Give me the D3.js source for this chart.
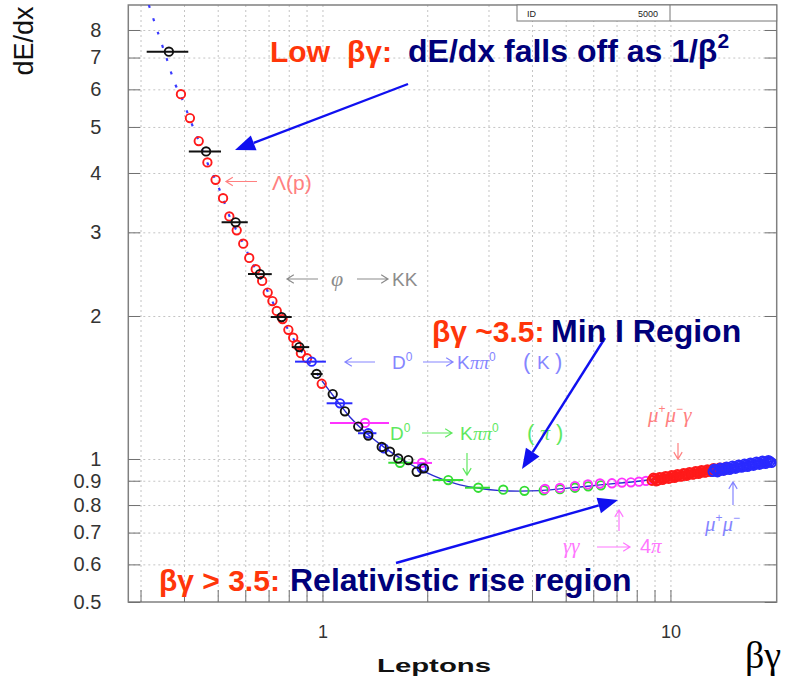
<!DOCTYPE html>
<html>
<head>
<meta charset="utf-8">
<script src="https://cdn.jsdelivr.net/npm/d3@7/dist/d3.min.js"></script>
<style>
body { margin: 0; background: #fff; }
svg { display: block; font-family: "Liberation Sans", Arial, sans-serif; }
</style>
</head>
<body>
<svg id="vis" width="785" height="681"></svg>
<script>
// fitted dE/dx curve
var curveBG = [0.317, 0.337, 0.357, 0.377, 0.392, 0.416, 0.441, 0.467, 0.494, 0.518, 0.540, 0.567, 0.592, 0.619, 0.644, 0.671, 0.697, 0.740, 0.798, 0.845, 0.920, 0.997, 1.086, 1.199, 1.325, 1.463, 1.616, 1.784, 1.970, 2.176, 2.484, 2.835, 3.236, 3.694, 4.217, 4.814, 5.495, 6.272, 7.159, 8.173, 9.328, 10.65, 12.16, 13.88, 15.84, 18.08, 20.10];
var curveDE = [9.03, 7.88, 6.95, 6.16, 5.81, 5.19, 4.67, 4.20, 3.85, 3.53, 3.25, 3.02, 2.84, 2.65, 2.50, 2.37, 2.25, 2.05, 1.87, 1.74, 1.59, 1.46, 1.344, 1.226, 1.140, 1.075, 1.020, 0.976, 0.939, 0.910, 0.882, 0.867, 0.858, 0.856, 0.858, 0.865, 0.873, 0.882, 0.890, 0.899, 0.910, 0.923, 0.937, 0.950, 0.964, 0.978, 0.993];
var curveSplit = 0.997; // dotted below, solid above

// Lambda -> p (red)
var lamBG = [0.392, 0.416, 0.441, 0.467, 0.493, 0.518, 0.540, 0.567, 0.592, 0.616, 0.643, 0.671, 0.696, 0.718, 0.739, 0.768, 0.798, 0.824, 0.843, 0.867, 0.903, 0.995];
var lamDE = [5.86, 5.22, 4.67, 4.21, 3.87, 3.54, 3.24, 3.03, 2.84, 2.65, 2.51, 2.37, 2.24, 2.15, 2.05, 1.97, 1.87, 1.80, 1.74, 1.67, 1.63, 1.44];

// phi -> KK (black), with x error bars on the first points
var phiBG = [0.362, 0.463, 0.563, 0.661, 0.763, 0.858, 0.962, 1.070, 1.160, 1.267, 1.354, 1.480, 1.563, 1.651, 1.765, 1.865, 1.957];
var phiDE = [7.20, 4.44, 3.15, 2.45, 1.99, 1.72, 1.51, 1.37, 1.26, 1.17, 1.12, 1.06, 1.036, 1.003, 0.995, 0.940, 0.956];
var phiLo = [0.3125, 0.413, 0.513, 0.611, 0.710, 0.816, 0.925, null, null, null, null, null, null, null, null, null, null];
var phiHi = [0.4115, 0.511, 0.610, 0.715, 0.816, 0.916, 1.001, null, null, null, null, null, null, null, null, null, null];

// D0 -> K pi pi0 (K), blue
var dkBG = [0.931, 1.123, 1.354, 1.502, 1.928];
var dkDE = [1.603, 1.310, 1.133, 1.053, 0.956];
var dkLo = [0.834, 1.028, 1.265, null, null];
var dkHi = [1.023, 1.219, 1.429, null, null];

// D0 -> K pi pi0 (pi), green
var dpBG = [1.670, 2.299, 2.804, 3.308, 3.806, 4.322, 4.814, 5.317, 5.804, 6.314];
var dpDE = [0.982, 0.903, 0.870, 0.862, 0.857, 0.859, 0.864, 0.870, 0.876, 0.880];
var dpLo = [1.546, 2.073, 2.568, null, null, null, null, null, null, null];
var dpHi = [1.823, 2.539, 3.029, null, null, null, null, null, null, null];

// gamma gamma -> 4 pi, magenta
var ggBG = [1.325, 1.932, 4.360, 4.814, 5.317, 5.793, 6.272, 6.790, 7.254, 7.700, 8.119, 8.504, 8.907];
var ggDE = [1.191, 0.981, 0.865, 0.869, 0.877, 0.884, 0.888, 0.889, 0.892, 0.893, 0.896, 0.899, 0.905];
var ggLo = [1.051, 1.820, null, null, null, null, null, null, null, null, null, null, null];
var ggHi = [1.553, 2.064, null, null, null, null, null, null, null, null, null, null, null];

// mu+ mu- gamma, red band
var mmgBG = [8.848, 9.027, 9.208, 9.392, 9.579, 9.770, 9.968, 10.17, 10.37, 10.58, 10.79, 11.01, 11.23, 11.45, 11.68, 11.92, 12.16, 12.40, 12.65, 12.90, 13.16, 13.43, 13.70, 13.97, 14.25, 14.54,
             8.937, 9.117, 9.299, 9.485, 9.674, 9.869, 10.07, 10.27, 10.47, 10.68, 10.90, 11.12, 11.34, 11.57, 11.80, 12.04, 12.28, 12.52, 12.77, 13.03, 13.29, 13.56, 13.83, 14.11, 14.39];
var mmgDE = [0.901, 0.908, 0.903, 0.912, 0.910, 0.917, 0.912, 0.921, 0.919, 0.925, 0.921, 0.930, 0.928, 0.934, 0.930, 0.939, 0.937, 0.943, 0.939, 0.946, 0.943, 0.950, 0.946, 0.953, 0.948, 0.955,
             0.912, 0.899, 0.914, 0.905, 0.919, 0.910, 0.923, 0.914, 0.928, 0.919, 0.932, 0.923, 0.937, 0.928, 0.941, 0.932, 0.946, 0.937, 0.950, 0.941, 0.955, 0.946, 0.957, 0.950, 0.960];

// mu+ mu-, blue band
var mmBG = [13.25, 13.51, 13.79, 14.06, 14.34, 14.63, 14.93, 15.22, 15.53, 15.84, 16.16, 16.48, 16.81, 17.15, 17.49, 17.84, 18.20, 18.57, 18.94, 19.32,
            13.38, 13.65, 13.92, 14.20, 14.49, 14.78, 15.08, 15.38, 15.68, 16.00, 16.32, 16.65, 16.98, 17.32, 17.67, 18.02, 18.38, 18.75, 19.12, 19.51];
var mmDE = [0.941, 0.948, 0.944, 0.953, 0.950, 0.957, 0.955, 0.962, 0.960, 0.967, 0.964, 0.971, 0.969, 0.976, 0.974, 0.981, 0.978, 0.986, 0.983, 0.988,
            0.953, 0.939, 0.957, 0.946, 0.962, 0.950, 0.967, 0.955, 0.971, 0.960, 0.976, 0.964, 0.981, 0.969, 0.986, 0.974, 0.990, 0.978, 0.993, 0.983];

var yTicks = [0.5, 0.6, 0.7, 0.8, 0.9, 1, 2, 3, 4, 5, 6, 7, 8];
var yGrid = [0.6, 0.7, 0.8, 0.9, 1, 2, 3, 4, 5, 6, 7, 8];
var xGrid = [0.3, 0.4, 0.5, 0.6, 0.7, 0.8, 0.9, 1, 2, 3, 4, 5, 6, 7, 8, 9, 10];
var xLabels = [1, 10];

var L = 128.3, R = 776.7, T = 5, B = 602;
var x = d3.scaleLog().domain([0.2767, 20.2]).range([L, R]);
var y = d3.scaleLog().domain([0.5, 9.03]).range([B, T]);

var svg = d3.select("#vis");
svg.append("rect").attr("width", 785).attr("height", 681).attr("fill", "#fff");
svg.append("clipPath").attr("id", "clip")
   .append("rect").attr("x", L).attr("y", T).attr("width", R - L).attr("height", B - T);

// dotted grid
svg.append("g").attr("transform", `translate(0,${B})`)
   .call(d3.axisBottom(x).tickValues(xGrid).tickSize(-(B - T)).tickFormat(""))
   .call(g => g.select(".domain").remove())
   .call(g => g.selectAll("line").attr("stroke", "#c4c4c4").attr("stroke-dasharray", "2,3"));
svg.append("g").attr("transform", `translate(${L},0)`)
   .call(d3.axisLeft(y).tickValues(yGrid).tickSize(-(R - L)).tickFormat(""))
   .call(g => g.select(".domain").remove())
   .call(g => g.selectAll("line").attr("stroke", "#c4c4c4").attr("stroke-dasharray", "2,3"));

// frame
svg.append("rect").attr("x", L).attr("y", T).attr("width", R - L).attr("height", B - T)
   .attr("fill", "none").attr("stroke", "#808080").attr("stroke-width", 1.5);

// axes with inward ticks
var tickCol = "#707070", labCol = "#333";
svg.append("g").attr("transform", `translate(${L},0)`)
   .call(d3.axisLeft(y).tickValues(yTicks).tickSizeInner(-12).tickSizeOuter(0).tickPadding(27)
           .tickFormat(d => String(d)))
   .call(g => g.select(".domain").remove())
   .call(g => g.selectAll("line").attr("stroke", tickCol))
   .call(g => g.selectAll("text").attr("fill", labCol).attr("font-size", 20)
               .attr("font-family", "Liberation Sans, Arial, sans-serif"));
svg.append("g").attr("transform", `translate(${R},0)`)
   .call(d3.axisRight(y).tickValues(yTicks).tickSizeInner(-12).tickSizeOuter(0).tickFormat(""))
   .call(g => g.select(".domain").remove())
   .call(g => g.selectAll("line").attr("stroke", tickCol));
svg.append("g").attr("transform", `translate(0,${B})`)
   .call(d3.axisBottom(x).tickValues(xGrid).tickSizeInner(-12).tickSizeOuter(0).tickPadding(23)
           .tickFormat(d => xLabels.indexOf(d) >= 0 ? String(d) : ""))
   .call(g => g.select(".domain").remove())
   .call(g => g.selectAll("line").attr("stroke", tickCol))
   .call(g => g.selectAll("text").attr("fill", labCol).attr("font-size", 18)
               .attr("font-family", "Liberation Sans, Arial, sans-serif"));

// ID box
var idBox = svg.append("g").attr("font-size", 9).attr("fill", "#222");
idBox.append("rect").attr("x", 517).attr("y", T).attr("width", R - 517).attr("height", 16)
     .attr("fill", "#fff").attr("stroke", "#777");
idBox.append("line").attr("x1", 670).attr("x2", 670).attr("y1", T).attr("y2", T + 16).attr("stroke", "#777");
idBox.append("text").attr("x", 527).attr("y", 17).text("ID");
idBox.append("text").attr("x", 638).attr("y", 17).text("5000");

var plot = svg.append("g").attr("clip-path", "url(#clip)");

// fitted curve
var curve = curveBG.map((d, i) => [d, curveDE[i]]);
var line = d3.line().x(d => x(d[0])).y(d => y(d[1])).curve(d3.curveCatmullRom);
plot.append("path").datum(curve.filter(d => d[0] <= curveSplit)).attr("d", line)
    .attr("fill", "none").attr("stroke", "#3b3bff").attr("stroke-width", 2.2)
    .attr("stroke-dasharray", "3,11");
plot.append("path").datum(curve.filter(d => d[0] >= curveSplit)).attr("d", line)
    .attr("fill", "none").attr("stroke", "#2a2ad0").attr("stroke-width", 1.4);

function series(bg, de, lo, hi, color, fill, r) {
  var pts = bg.map((d, i) => ({bg: d, de: de[i], lo: lo ? lo[i] : null, hi: hi ? hi[i] : null}));
  var g = plot.append("g");
  g.selectAll("line").data(pts.filter(d => d.lo != null)).enter().append("line")
   .attr("x1", d => x(d.lo)).attr("x2", d => x(d.hi))
   .attr("y1", d => y(d.de)).attr("y2", d => y(d.de))
   .attr("stroke", color).attr("stroke-width", 2);
  g.selectAll("circle").data(pts).enter().append("circle")
   .attr("cx", d => x(d.bg)).attr("cy", d => y(d.de)).attr("r", r || 4.2)
   .attr("fill", fill).attr("stroke", color).attr("stroke-width", 1.9);
}
series(lamBG, lamDE, null, null, "#ff1a1a", "none");
series(dpBG, dpDE, dpLo, dpHi, "#33dd33", "none");
series(ggBG, ggDE, ggLo, ggHi, "#ff33ff", "none");
series(dkBG, dkDE, dkLo, dkHi, "#2a2aff", "none");
series(phiBG, phiDE, phiLo, phiHi, "#111", "none");
series(mmgBG, mmgDE, null, null, "#ff1a1a", "none", 4.5);
series(mmBG, mmDE, null, null, "#2a2aff", "none", 4.5);

// thin annotation arrows
function thinArrow(x1, y1, x2, y2, color) {
  var a = Math.atan2(y2 - y1, x2 - x1), h = 8, s = 0.55;
  svg.append("path")
     .attr("d", `M${x1},${y1}L${x2},${y2}M${x2 - h * Math.cos(a - s)},${y2 - h * Math.sin(a - s)}L${x2},${y2}L${x2 - h * Math.cos(a + s)},${y2 - h * Math.sin(a + s)}`)
     .attr("fill", "none").attr("stroke", color).attr("stroke-width", 1.2);
}
// parts: [x, text, italic?, size?, dy?]
function note(parts, yPos, color) {
  var t = svg.append("text").attr("y", yPos).attr("fill", color).attr("font-size", 19);
  parts.forEach(p => {
    var s = t.append("tspan").text(p[1])
     .attr("font-family", p[2] ? "Liberation Serif, serif" : "Liberation Sans, sans-serif")
     .attr("font-style", p[2] ? "italic" : "normal");
    if (p[0] != null) s.attr("x", p[0]);
    if (p[3]) s.attr("font-size", p[3]);
    if (p[4]) s.attr("dy", p[4]);
  });
}
var cLam = "#ff8080", cPhi = "#8c8c8c", cDK = "#8585ff", cDP = "#5fe85f", cGG = "#ff77ff";
thinArrow(257, 181.5, 226, 181.5, cLam);
note([[272, "Λ(p)", false, 21]], 190, cLam);
thinArrow(318, 279, 287, 279, cPhi);
thinArrow(357, 279, 388, 279, cPhi);
note([[331, "φ", true, 22], [392, "KK"]], 286, cPhi);
thinArrow(375, 362, 345, 362, cDK);
thinArrow(423, 362, 453, 362, cDK);
note([[392, "D"], [null, "0", false, 12, -8], [457, "K", false, 19, 8], [470, "ππ", true], [null, "0", false, 12, -8],
      [523, "(", false, 22, 8], [537, "K", false, 19], [555, ")", false, 22]], 369, cDK);
thinArrow(422, 433, 452, 433, cDP);
thinArrow(467, 453, 467, 475, cDP);
note([[390, "D"], [null, "0", false, 12, -8], [460, "K", false, 19, 8], [473, "ππ", true], [null, "0", false, 12, -8],
      [527, "(", false, 22, 8], [540, "π", true, 20], [556, ")", false, 22]], 440, cDP);
note([[648, "μ", true, 21], [null, "+", false, 12, -9], [null, "μ", true, 21, 9], [null, "−", false, 12, -9],
      [null, "γ", true, 21, 9]], 422, cLam);
thinArrow(678, 443, 678, 459, cLam);
thinArrow(733, 505, 733, 482, cDK);
note([[705, "μ", true, 21], [null, "+", false, 12, -9], [null, "μ", true, 21, 9], [null, "−", false, 12, -9]], 531, cDK);
thinArrow(619, 531, 619, 510, cGG);
thinArrow(597, 547, 630, 547, cGG);
note([[563, "γγ", true, 21], [640, "4", false, 20], [651, "π", true, 21]], 553, cGG);

// bold blue arrows
function boldArrow(x1, y1, x2, y2) {
  var a = Math.atan2(y2 - y1, x2 - x1), h = 20, w = 8;
  var bx = x2 - h * Math.cos(a), by = y2 - h * Math.sin(a);
  svg.append("line").attr("x1", x1).attr("y1", y1).attr("x2", bx).attr("y2", by)
     .attr("stroke", "#1010f0").attr("stroke-width", 2.4);
  svg.append("path")
     .attr("d", `M${x2},${y2}L${bx - w * Math.sin(a)},${by + w * Math.cos(a)}L${bx + w * Math.sin(a)},${by - w * Math.cos(a)}Z`)
     .attr("fill", "#1010f0");
}
boldArrow(408, 84, 235, 150);
boldArrow(605, 338, 522, 469);
boldArrow(396, 563, 618, 500);

// headline annotations: [x, text, colour]
var red = "#ff360a", navy = "#00007a";
function headline(parts, yPos, sup) {
  var g = svg.append("text").attr("y", yPos).attr("font-weight", "bold");
  parts.forEach(p => {
    g.append("tspan").attr("x", p[0]).attr("fill", p[2])
     .attr("font-size", p[2] === navy ? 32 : 30).text(p[1]);
  });
  if (sup) g.append("tspan").attr("fill", navy).attr("font-size", 21).attr("dy", -14).text(sup);
}
headline([[270, "Low", red], [347, "βγ:", red], [408, "dE/dx falls off as 1/β", navy]], 62, "2");
headline([[432, "βγ ~3.5:", red], [551, "Min I Region", navy]], 342);
headline([[159, "βγ > 3.5:", red], [290, "Relativistic rise region", navy]], 591);

// axis titles
svg.append("text").attr("transform", "translate(33,41) rotate(-90)").attr("text-anchor", "middle")
   .attr("font-size", 27).attr("fill", "#111").text("dE/dx");
svg.append("text").attr("x", 377).attr("y", 672).attr("font-size", 19).attr("font-weight", "bold")
   .attr("textLength", 114).attr("lengthAdjust", "spacingAndGlyphs").attr("fill", "#111").text("Leptons");
svg.append("text").attr("x", 745).attr("y", 668).attr("font-size", 38)
   .attr("font-family", "Liberation Serif, serif").attr("fill", "#000").text("βγ");
</script>
</body>
</html>
